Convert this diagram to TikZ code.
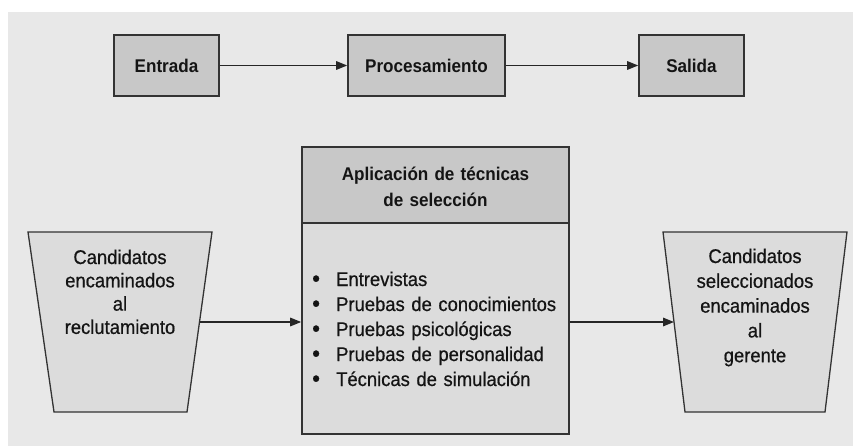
\documentclass[tikz,border=0pt]{standalone}
\usepackage{fontspec}
\setmainfont{Liberation Sans}[FakeStretch=0.93]
\newfontfamily\regf{Liberation Sans}[FakeStretch=0.93, FakeBold=0.6]
\usetikzlibrary{arrows.meta}
\definecolor{bg}{HTML}{E8E8E8}
\definecolor{hdr}{HTML}{C8C8C8}
\definecolor{lite}{HTML}{DCDCDC}
\definecolor{edge}{HTML}{333333}
\definecolor{ink}{HTML}{141414}
\newcommand{\bulletmark}{\makebox[24pt][l]{\raisebox{-0.6pt}{\fontsize{24}{25}\selectfont\textbullet}}}
\tikzset{
  boxstyle/.style={draw=edge, line width=1.6pt, fill=hdr, inner sep=0pt},
  topbox/.style={boxstyle, minimum height=61pt, text=ink,
    font=\fontsize{18.4}{22}\selectfont\bfseries},
  trapstyle/.style={draw=edge, line width=1.3pt, fill=lite},
  arr/.style={draw=black!85, line width=1.5pt, -{Triangle[length=11pt,width=8.5pt]}},
  txt/.style={inner sep=0pt, text=ink, anchor=base},
  regtxt/.style={txt, font=\regf\fontsize{19.8}{#1}\selectfont},
}
\begin{document}
\begin{tikzpicture}[x=1pt,y=-1pt]
\useasboundingbox (0,0) rectangle (853,446);
\fill[white] (0,0) rectangle (853,446);
\fill[bg] (8,12) rectangle (853,446);

% top row
\node[topbox, minimum width=105pt] (entrada) at (166.5,65.5) {Entrada};
\node[topbox, minimum width=157pt] (proc) at (426.5,65.5) {Procesamiento};
\node[topbox, minimum width=105pt] (salida) at (691.5,65.5) {Salida};
\draw[arr] (entrada) -- (proc);
\draw[arr] (proc) -- (salida);

% middle box
\node[boxstyle, minimum width=267pt, minimum height=76pt] (head) at (435.5,185) {};
\node[boxstyle, fill=lite, minimum width=267pt, minimum height=211pt] (body) at (435.5,328.5) {};
\node[txt, font=\fontsize{18.4}{26}\selectfont\bfseries, text width=260pt, align=center]
  (headtxt) at (435.5,180.7) {Aplicación de técnicas\\de selección};
\node[regtxt=25, anchor=base west, text width=262pt, align=left]
  (list) at (312,286) {%
  \bulletmark Entrevistas\\
  \bulletmark Pruebas de conocimientos\\
  \bulletmark Pruebas psicológicas\\
  \bulletmark Pruebas de personalidad\\
  \bulletmark Técnicas de simulación};

% left trapezoid
\draw[trapstyle] (28,232) -- (212,232) -- (187,412) -- (54,412) -- cycle;
\coordinate (ltE) at (199.5,322);
\node[regtxt=23.3, text width=180pt, align=center]
  (lefttxt) at (120,264) {Candidatos\\encaminados\\al\\reclutamiento};

% right trapezoid
\draw[trapstyle] (663,232) -- (847,232) -- (825,412) -- (685,412) -- cycle;
\coordinate (rtW) at (674,322);
\node[regtxt=24.8, text width=180pt, align=center]
  (righttxt) at (755,263) {Candidatos\\seleccionados\\encaminados\\al\\gerente};

% lower connectors
\draw[arr] (ltE) -- (ltE -| body.west);
\draw[arr] (body.east |- rtW) -- (rtW);
\end{tikzpicture}
\end{document}
